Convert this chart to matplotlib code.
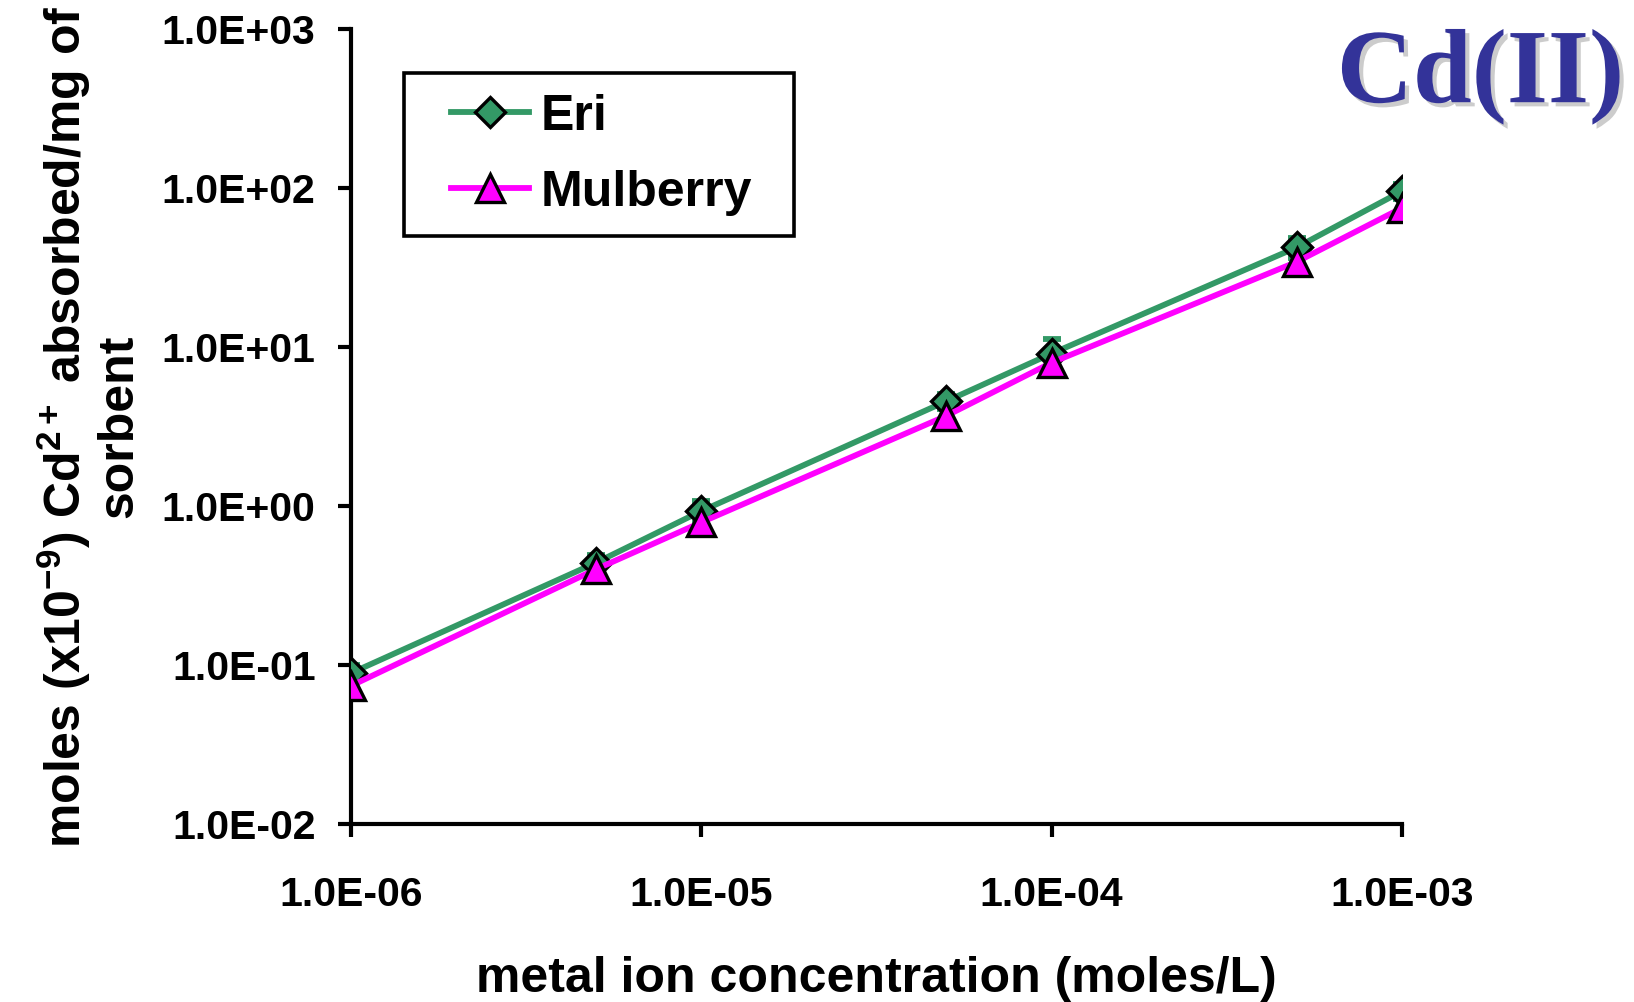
import matplotlib
matplotlib.use('Agg')
import matplotlib.pyplot as plt
import matplotlib.patheffects as pe
from matplotlib.lines import Line2D
from matplotlib.patches import Rectangle
from matplotlib.ticker import FixedLocator, FuncFormatter, NullLocator

plt.rcParams['font.family'] = ['Liberation Sans', 'DejaVu Sans']
plt.rcParams['font.weight'] = 'bold'
plt.rcParams['mathtext.fontset'] = 'custom'
plt.rcParams['mathtext.rm'] = 'Liberation Sans:bold'
plt.rcParams['mathtext.bf'] = 'Liberation Sans:bold'
plt.rcParams['mathtext.it'] = 'Liberation Sans:bold'
plt.rcParams['mathtext.default'] = 'rm'

# concentracion del ion metalico (moles/L)
conc = [1e-6, 5e-6, 1e-5, 5e-5, 1e-4, 5e-4, 1e-3]
# moles (x10^-9) de Cd absorbidos por mg de sorbente
eri = [0.089, 0.44, 0.93, 4.56, 9.1, 42.3, 95.6]
eri_err = [0.011, 0.05, 0.145, 0.49, 2.2, 5.9, 10.2]
mulberry = [0.074, 0.40, 0.79, 3.69, 7.98, 34.3, 75.0]

x_ticks = [1e-6, 1e-5, 1e-4, 1e-3]
y_ticks = [1e-2, 1e-1, 1e0, 1e1, 1e2, 1e3]

verde = '#339966'
magenta = '#FF00FF'
estilo_eri = dict(color=verde, lw=4.2, marker='D', ms=15.5, mfc=verde, mec='black', mew=2.4)
estilo_mul = dict(color=magenta, lw=4.2, marker='^', ms=20, mfc=magenta, mec='black', mew=2.4)

fig = plt.figure(figsize=(16.34, 10.02), dpi=100)
ax = fig.add_axes([0.2148, 0.1776, 0.6432, 0.7934])

# barras de error de Eri (solo los topes se ven sobre el marcador)
ax.errorbar(conc, eri, yerr=eri_err, fmt='none', ecolor=verde, elinewidth=4.2,
            capsize=6.5, capthick=4.2, zorder=2)
ax.plot(conc, eri, zorder=3, **estilo_eri)
ax.plot(conc, mulberry, zorder=4, **estilo_mul)

ax.set_xscale('log')
ax.set_yscale('log')
ax.set_xlim(1e-6, 1e-3)
ax.set_ylim(1e-2, 1e3)

fmt = FuncFormatter(lambda v, p: f'{v:.1E}')
ax.xaxis.set_major_locator(FixedLocator(x_ticks))
ax.yaxis.set_major_locator(FixedLocator(y_ticks))
ax.xaxis.set_minor_locator(NullLocator())
ax.yaxis.set_minor_locator(NullLocator())
ax.xaxis.set_major_formatter(fmt)
ax.yaxis.set_major_formatter(fmt)

for s in ['top', 'right']:
    ax.spines[s].set_visible(False)
for s in ['left', 'bottom']:
    ax.spines[s].set_linewidth(3)

ax.tick_params(axis='both', direction='out', length=9.5, width=3, labelsize=29.5)
ax.tick_params(axis='x', pad=28)
ax.tick_params(axis='y', pad=16)
for lab in ax.get_xticklabels() + ax.get_yticklabels():
    lab.set_fontweight('bold')

ax.set_xlabel('metal ion concentration (moles/L)', fontsize=36, fontweight='bold', labelpad=30)
ax.set_ylabel('moles (x10$^{-9}$) Cd$^{2+}$ absorbed/mg of\nsorbent', fontsize=36,
              fontweight='bold', labelpad=14, linespacing=1.1)

# leyenda con marco propio
marco = Rectangle((0.0504, 0.7396), 0.3711, 0.2051, transform=ax.transAxes, fill=False,
                  edgecolor='black', lw=2.6, clip_on=False, zorder=5)
ax.add_patch(marco)
handles = [Line2D([], [], **estilo_eri), Line2D([], [], **estilo_mul)]
leg = ax.legend(handles, ['Eri', 'Mulberry'], loc='center left', bbox_to_anchor=(0.0951, 0.842),
                fontsize=36, frameon=False, handlelength=1.56, handletextpad=0.23,
                labelspacing=0.6, borderpad=0, borderaxespad=0)
for t in leg.get_texts():
    t.set_fontweight('bold')

fig.text(0.906, 0.898, 'Cd(II)', fontsize=76, fontweight='bold', color='#333399',
         family=['Liberation Serif', 'DejaVu Serif'], ha='center', va='baseline',
         path_effects=[pe.withSimplePatchShadow(offset=(3, -3), shadow_rgbFace='gray', alpha=0.4)])

fig.savefig('out.png', dpi=100)
